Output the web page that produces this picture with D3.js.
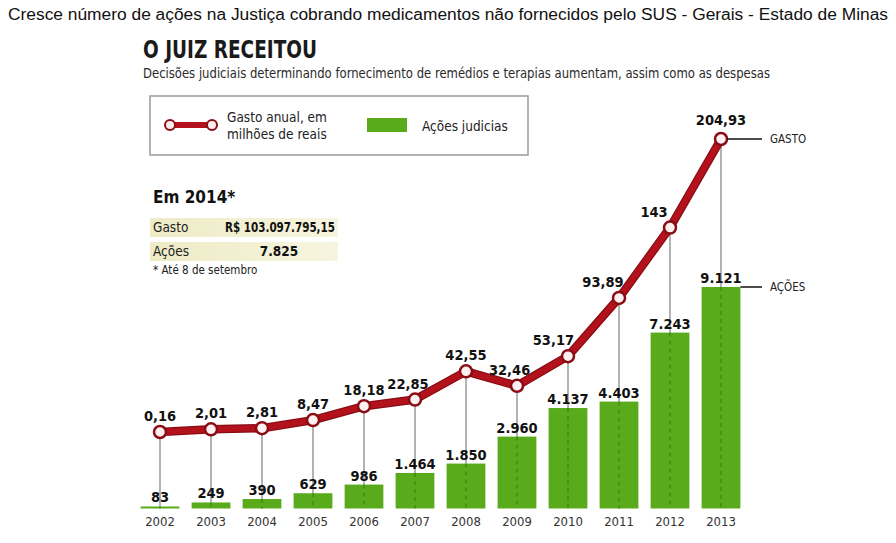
<!DOCTYPE html>
<html>
<head>
<meta charset="utf-8">
<script src="https://cdn.jsdelivr.net/npm/d3@7"></script>
<style>
  html, body { margin: 0; padding: 0; background: #fff; }
  svg { display: block; }
  .cond { font-family: "DejaVu Sans Condensed", "DejaVu Sans", sans-serif; font-stretch: condensed; }
</style>
</head>
<body>
<svg id="chart" width="896" height="543"></svg>
<script>
// ---- data ----
const years = ["2002","2003","2004","2005","2006","2007","2008","2009","2010","2011","2012","2013"];
const gasto = [0.16, 2.01, 2.81, 8.47, 18.18, 22.85, 42.55, 32.46, 53.17, 93.89, 143, 204.93];
const gastoLabels = ["0,16","2,01","2,81","8,47","18,18","22,85","42,55","32,46","53,17","93,89","143","204,93"];
const acoes = [83, 249, 390, 629, 986, 1464, 1850, 2960, 4137, 4403, 7243, 9121];
const acoesLabels = ["83","249","390","629","986","1.464","1.850","2.960","4.137","4.403","7.243","9.121"];
const pageTitle = "Cresce número de ações na Justiça cobrando medicamentos não fornecidos pelo SUS - Gerais - Estado de Minas";
const chartTitle = "O JUIZ RECEITOU";
const chartSubtitle = "Decisões judiciais determinando fornecimento de remédios e terapias aumentam, assim como as despesas";
const legendLine = ["Gasto anual, em", "milhões de reais"];
const legendBar = "Ações judicias";
const box2014 = { title: "Em 2014*", rows: [["Gasto", "R$ 103.097.795,15"], ["Ações", "7.825"]], note: "* Até 8 de setembro" };

// ---- drawing ----
const svg = d3.select("#chart");
const RED = "#b3121c", RED_DARK = "#8a0c14", GREEN = "#5aab1c", GREEN_DARK = "#3f8c12";

const defs = svg.append("defs");
const grad = defs.append("linearGradient").attr("id", "rowbg");
grad.append("stop").attr("offset", "0%").attr("stop-color", "#eeebc6");
grad.append("stop").attr("offset", "100%").attr("stop-color", "#f7f5df");

// page title
svg.append("text").attr("x", 448).attr("y", 20).attr("text-anchor", "middle")
  .attr("font-family", "Liberation Sans, Arial, sans-serif").attr("font-size", 16).attr("fill", "#111")
  .attr("textLength", 880).attr("lengthAdjust", "spacingAndGlyphs")
  .text(pageTitle);

svg.append("text").attr("class", "cond").attr("x", 143).attr("y", 58)
  .attr("font-size", 25).attr("font-weight", "bold").attr("fill", "#1a1a1a")
  .attr("textLength", 174).attr("lengthAdjust", "spacingAndGlyphs").text(chartTitle);
svg.append("text").attr("class", "cond").attr("x", 143).attr("y", 78)
  .attr("font-size", 13.5).attr("fill", "#2a2a2a")
  .attr("textLength", 627).attr("lengthAdjust", "spacingAndGlyphs").text(chartSubtitle);

// legend
const lg = svg.append("g");
lg.append("rect").attr("x", 150).attr("y", 96).attr("width", 378).attr("height", 59)
  .attr("fill", "#fff").attr("stroke", "#9a9a9a").attr("stroke-width", 1.5);
lg.append("line").attr("x1", 170).attr("x2", 212).attr("y1", 125).attr("y2", 125)
  .attr("stroke", RED).attr("stroke-width", 6);
[170, 212].forEach(cx => lg.append("circle").attr("cx", cx).attr("cy", 125).attr("r", 5)
  .attr("fill", "#fdeeee").attr("stroke", RED_DARK).attr("stroke-width", 2));
lg.selectAll("text.l1").data(legendLine).join("text").attr("class", "cond")
  .attr("x", 227).attr("y", (d, i) => 122 + i * 17).attr("font-size", 13.5).attr("fill", "#222").text(d => d);
lg.append("rect").attr("x", 367).attr("y", 118).attr("width", 40).attr("height", 14).attr("fill", GREEN);
lg.append("text").attr("class", "cond").attr("x", 422).attr("y", 131).attr("font-size", 13.5).attr("fill", "#222").text(legendBar);

// 2014 box
const bx = svg.append("g");
bx.append("text").attr("class", "cond").attr("x", 153).attr("y", 203).attr("font-size", 17)
  .attr("font-weight", "bold").attr("fill", "#111").text(box2014.title);
box2014.rows.forEach((r, i) => {
  const y0 = 218 + i * 24;
  bx.append("rect").attr("x", 150).attr("y", y0).attr("width", 188).attr("height", 19).attr("fill", "url(#rowbg)");
  bx.append("text").attr("class", "cond").attr("x", 153).attr("y", y0 + 14).attr("font-size", 13.5).attr("fill", "#222").text(r[0]);
  const t = bx.append("text").attr("class", "cond").attr("x", i === 0 ? 280 : 279).attr("y", y0 + 14).attr("text-anchor", "middle")
    .attr("font-size", 13.5).attr("font-weight", "bold").attr("fill", "#111").text(r[1]);
  if (i === 0) t.attr("textLength", 110).attr("lengthAdjust", "spacingAndGlyphs");
});
bx.append("text").attr("class", "cond").attr("x", 153).attr("y", 274).attr("font-size", 11.5).attr("fill", "#222").text(box2014.note);

// scales
const x = d3.scaleBand().domain(years).range([134.5, 746.5]).paddingInner(0.24).paddingOuter(0.12);
const yBar = d3.scaleLinear().domain([0, 9121]).range([508.5, 287]);
const yLine = d3.scaleLinear().domain([0.16, 204.93]).range([432, 139]);
const cx = d => x(d) + x.bandwidth() / 2;
const base = yBar(0);

// bars
svg.append("g").selectAll("rect").data(years).join("rect")
  .attr("x", d => x(d)).attr("width", x.bandwidth())
  .attr("y", (d, i) => yBar(acoes[i])).attr("height", (d, i) => base - yBar(acoes[i]))
  .attr("fill", GREEN);

// connectors: gray above bar, dashed green inside bar
svg.append("g").selectAll("line").data(years).join("line")
  .attr("x1", cx).attr("x2", cx)
  .attr("y1", (d, i) => yLine(gasto[i])).attr("y2", (d, i) => yBar(acoes[i]))
  .attr("stroke", "#9a9a9a").attr("stroke-width", 1.5);
svg.append("g").selectAll("line").data(years).join("line")
  .attr("x1", cx).attr("x2", cx)
  .attr("y1", (d, i) => yBar(acoes[i])).attr("y2", base)
  .attr("stroke", GREEN_DARK).attr("stroke-width", 1.5).attr("stroke-dasharray", "4,4");

// bar labels
svg.append("g").selectAll("text").data(years).join("text").attr("class", "cond")
  .attr("x", cx).attr("y", (d, i) => yBar(acoes[i]) - 4).attr("text-anchor", "middle")
  .attr("font-size", 14.5).attr("font-weight", "bold").attr("fill", "#111")
  .text((d, i) => acoesLabels[i]);

// x-axis labels
const xAxis = svg.append("g").attr("transform", `translate(0,${base})`)
  .call(d3.axisBottom(x).tickSize(0).tickPadding(8));
xAxis.select(".domain").remove();
xAxis.selectAll("text").attr("class", "cond").attr("font-size", 13).attr("fill", "#333");

// line
const lineGen = d3.line().x((d, i) => cx(years[i])).y(d => yLine(d));
svg.append("path").datum(gasto).attr("d", lineGen).attr("fill", "none")
  .attr("stroke", RED_DARK).attr("stroke-width", 8.5).attr("stroke-linejoin", "round");
svg.append("path").datum(gasto).attr("d", lineGen).attr("fill", "none")
  .attr("stroke", RED).attr("stroke-width", 6).attr("stroke-linejoin", "round");
svg.append("g").selectAll("circle").data(gasto).join("circle")
  .attr("cx", (d, i) => cx(years[i])).attr("cy", d => yLine(d)).attr("r", 6)
  .attr("fill", "#fdf0f0").attr("stroke", RED_DARK).attr("stroke-width", 2.5);

// line labels: nudged left where the outgoing segment climbs steeply
svg.append("g").selectAll("text").data(gasto).join("text").attr("class", "cond")
  .attr("x", (d, i) => {
    let dx = 0;
    if (i < gasto.length - 1) {
      const rise = yLine(d) - yLine(gasto[i + 1]);
      if (rise > 20) dx = -Math.min(16, rise / 4);
    }
    return cx(years[i]) + dx;
  })
  .attr("y", (d, i) => yLine(d) - (i === gasto.length - 1 ? 14 : 11))
  .attr("text-anchor", "middle").attr("font-size", 14.5).attr("font-weight", "bold").attr("fill", "#111")
  .text((d, i) => gastoLabels[i]);

// right annotations
const last = years.length - 1;
svg.append("line").attr("x1", cx(years[last]) + 6).attr("x2", 762)
  .attr("y1", yLine(gasto[last])).attr("y2", yLine(gasto[last])).attr("stroke", "#111").attr("stroke-width", 1.5);
svg.append("text").attr("class", "cond").attr("x", 770).attr("y", yLine(gasto[last]) + 4)
  .attr("font-size", 11.5).attr("fill", "#222").text("GASTO");
svg.append("line").attr("x1", x(years[last]) + x.bandwidth()).attr("x2", 762)
  .attr("y1", yBar(acoes[last])).attr("y2", yBar(acoes[last])).attr("stroke", "#111").attr("stroke-width", 1.5);
svg.append("text").attr("class", "cond").attr("x", 770).attr("y", yBar(acoes[last]) + 4)
  .attr("font-size", 11.5).attr("fill", "#222").text("AÇÕES");
</script>
</body>
</html>
